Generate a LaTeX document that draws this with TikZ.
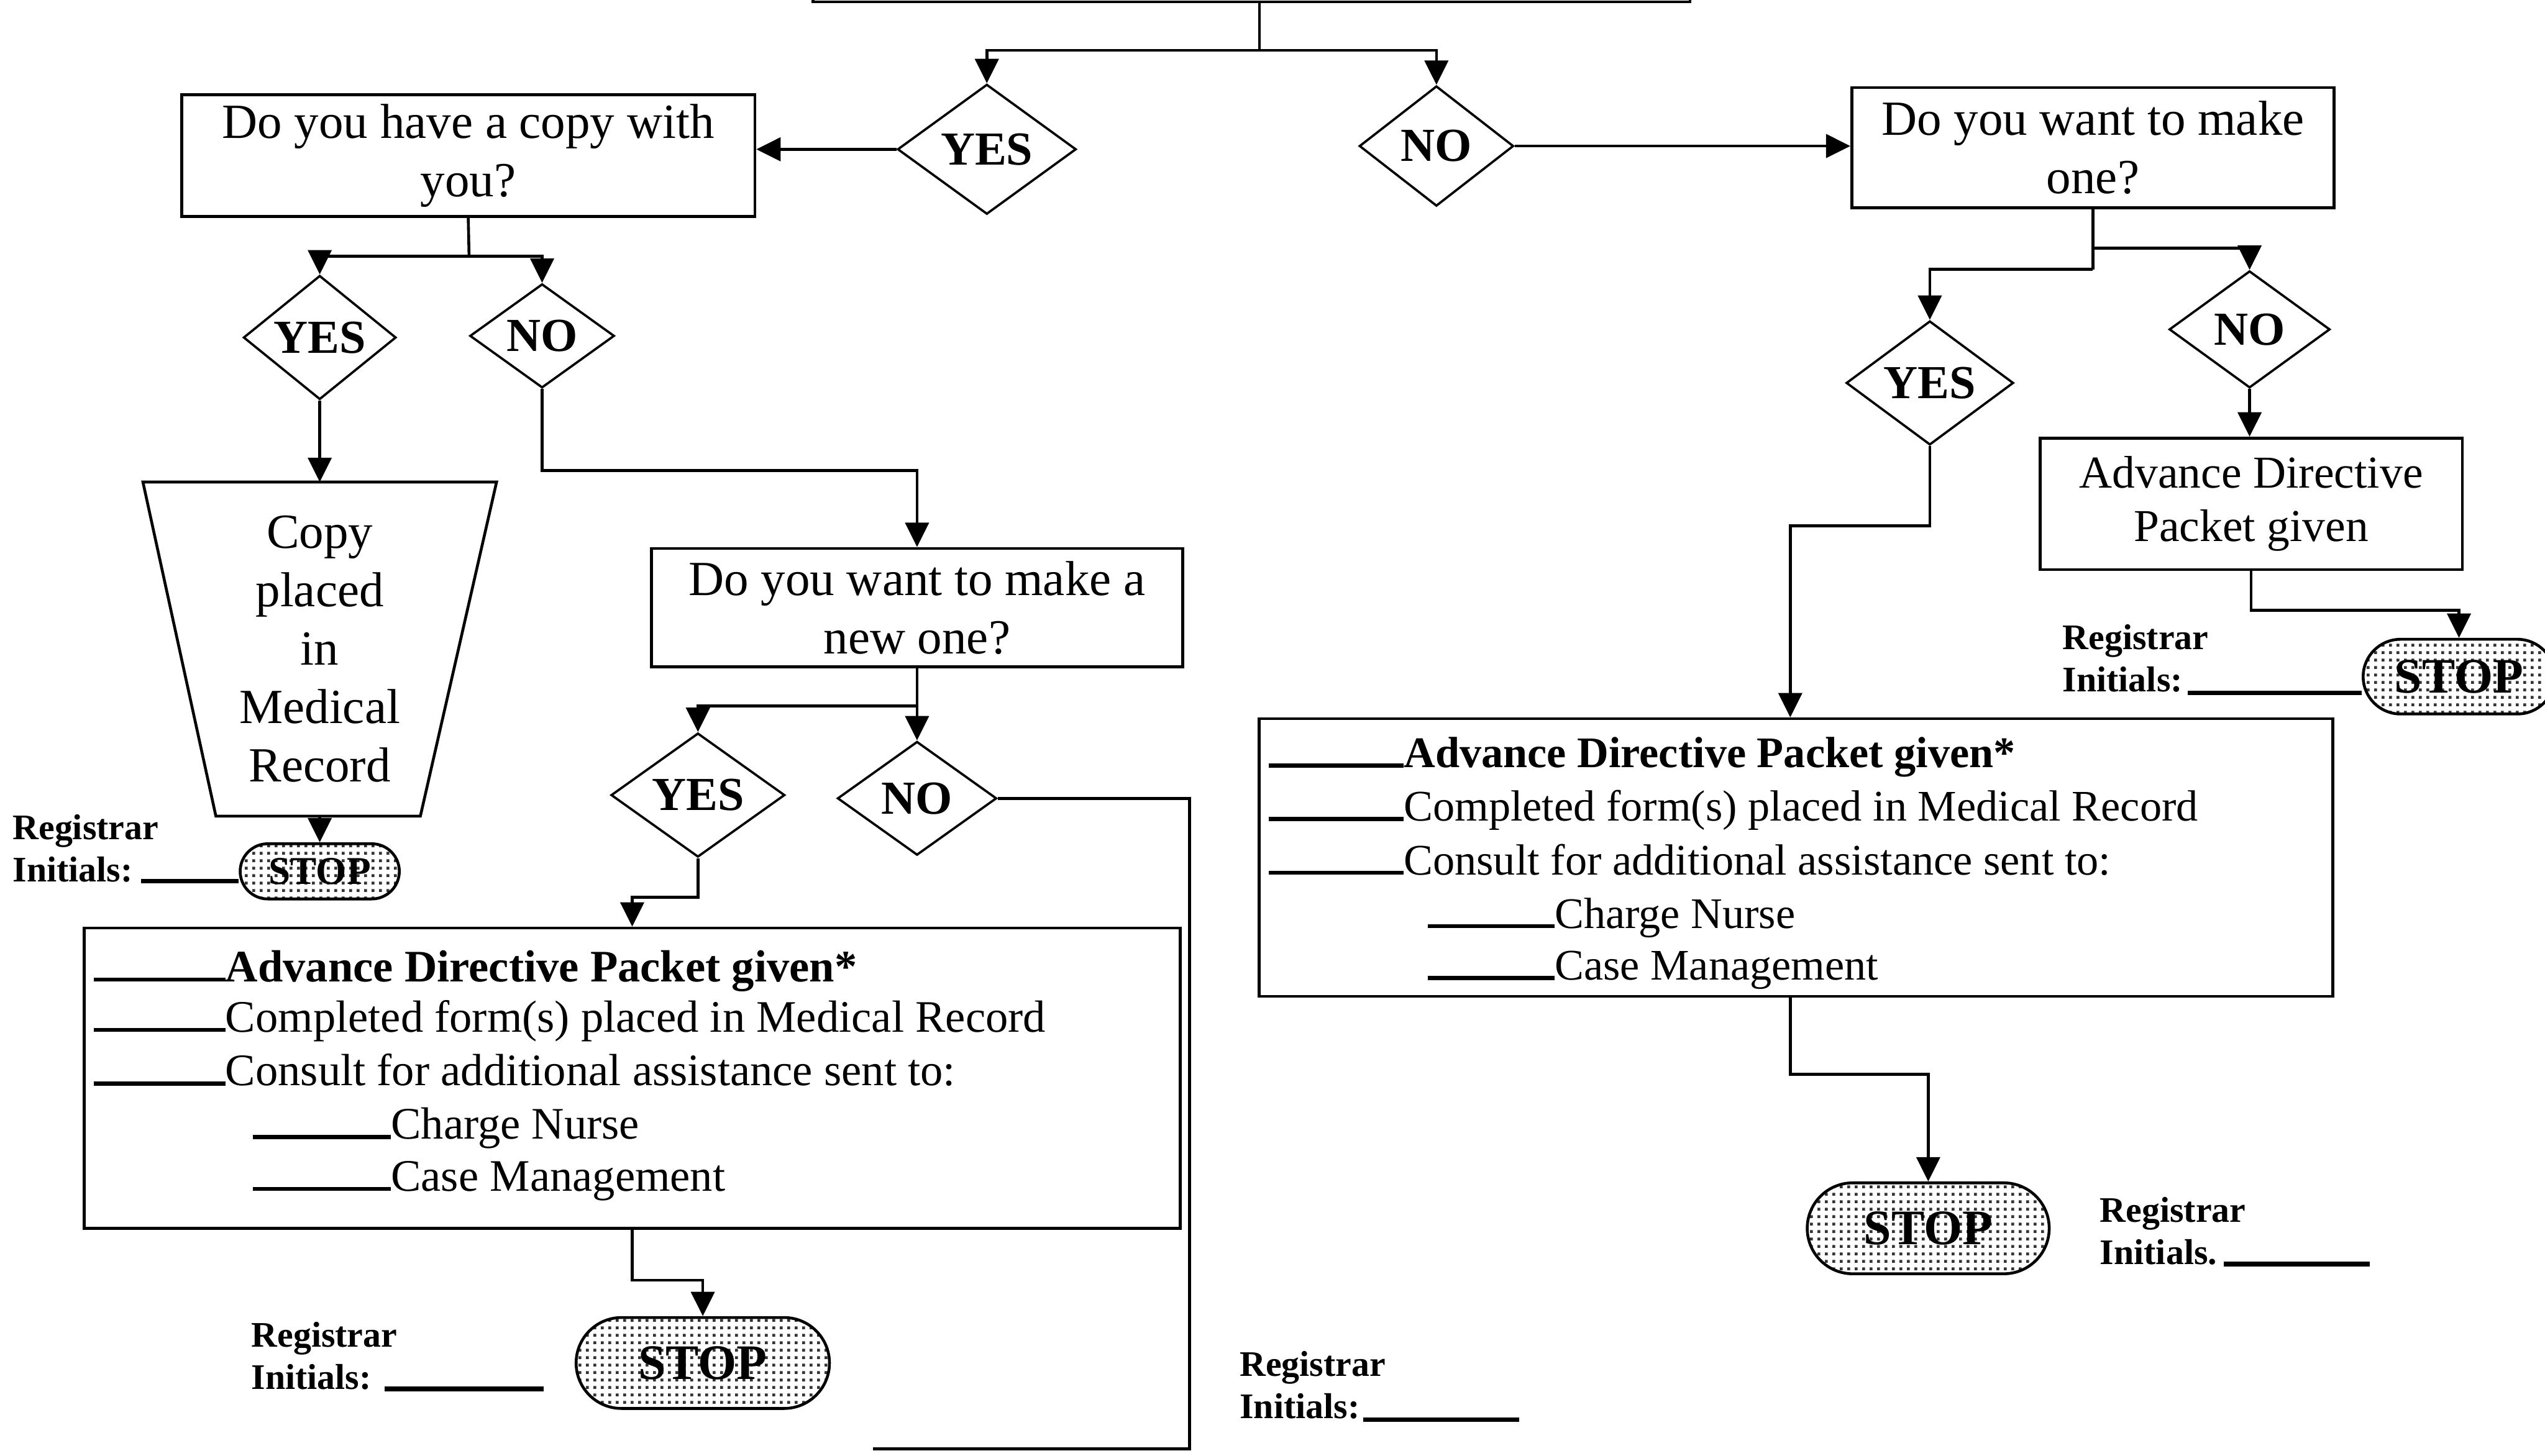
\documentclass[tikz,border=0pt]{standalone}
\usepackage{fontspec}
\setmainfont{Liberation Serif}
\usetikzlibrary{shapes.geometric,shapes.misc,arrows.meta,patterns.meta,calc}
\tikzdeclarepattern{
  name=stipple,
  type=uncolored,
  bounding box={(0pt,0pt) and (1.3pt,1.3pt)},
  tile size={(1.3pt,1.3pt)},
  code={\pgfpathrectangle{\pgfpointorigin}{\pgfpoint{0.5pt}{0.5pt}}\pgfusepath{fill}}
}
\newcommand\blank[1]{\rule{#1}{0.7pt}}
\begin{document}
\begin{tikzpicture}[x=0.01cm,y=-0.01cm,line width=0.5pt,
  arr/.style={-{Triangle[length=1.5mm,width=1.45mm]}},
  qbox/.style={draw,rectangle,inner sep=0pt,align=center,font=\fontsize{8.6}{10.24}\selectfont},
  dia/.style={draw,diamond,inner sep=0pt,line width=0.4pt,font=\fontsize{8.3}{10}\selectfont\bfseries},
  stopn/.style={draw,rounded rectangle,inner sep=0pt,preaction={fill=white},pattern=stipple,pattern color=black!80,font=\fontsize{8.7}{10}\selectfont\bfseries},
  reg/.style={anchor=north west,inner sep=0pt,align=left,font=\fontsize{6.3}{7.4}\selectfont\bfseries},
  ltl/.style={anchor=base west,inner sep=0pt,font=\fontsize{7.9}{9}\selectfont},
  ltr/.style={anchor=base west,inner sep=0pt,font=\fontsize{7.65}{9}\selectfont},
  initl/.style={line width=0.8pt}
]
\useasboundingbox (0,0) rectangle (1568,897);
\clip (0,0) rectangle (1568,897);

% top (cut-off) box
\node[draw,minimum width=5.4cm,minimum height=1cm,anchor=south west,inner sep=0pt] (top) at (500,2) {};

% first level
\node[dia,minimum width=1.1cm,minimum height=0.8cm] (yes1) at (608,92) {YES};
\node[dia,minimum width=0.95cm,minimum height=0.74cm] (no1) at (885,90) {NO};
\node[qbox,minimum width=3.53cm,minimum height=0.75cm] (q1) at (288.5,96) {Do you have a copy with\\you?};
\node[qbox,minimum width=2.97cm,minimum height=0.74cm] (q2) at (1289.5,91) {Do you want to make\\one?};

% left branch
\node[dia,minimum width=0.94cm,minimum height=0.63cm] (yes2) at (197,208) {YES};
\node[dia,minimum width=0.89cm,minimum height=0.64cm] (no2) at (334,207) {NO};
\node[inner sep=0pt,align=center,minimum width=2.16cm,minimum height=2.04cm,font=\fontsize{8.6}{10.24}\selectfont] (trap) at (197,400) {Copy\\placed\\in\\Medical\\Record};
\draw (trap.north west) -- (trap.north east) -- ($(trap.south)+(62,0)$) -- ($(trap.south)+(-64,0)$) -- cycle;
\node[stopn,minimum width=0.98cm,minimum height=0.34cm,font=\fontsize{6.9}{8}\selectfont\bfseries] (stop1) at (197,537) {STOP};
\node[reg] (r1) at (7,501) {Registrar\\Initials:};
\coordinate (i1) at (87,543);
\draw[initl] (i1) -- (i1 -| stop1.west);

\node[qbox,minimum width=3.27cm,minimum height=0.73cm] (q3) at (565,374.5) {Do you want to make a\\new one?};
\node[dia,minimum width=1.07cm,minimum height=0.76cm] (yes3) at (430,490) {YES};
\node[dia,minimum width=0.98cm,minimum height=0.70cm] (no3) at (565,492) {NO};

\node[draw,minimum width=6.75cm,minimum height=1.85cm,inner sep=0pt] (box1) at (389.5,664.5) {};
\node[ltl] (l1a) at (57,605) {\blank{0.81cm}\textbf{Advance Directive Packet given*}};
\node[ltl] (l1b) at (57,636) {\blank{0.81cm}Completed form(s) placed in Medical Record};
\node[ltl] (l1c) at (57,669) {\blank{0.81cm}Consult for additional assistance sent to:};
\node[ltl] (l1d) at (155,702) {\blank{0.85cm}Charge Nurse};
\node[ltl] (l1e) at (155,734) {\blank{0.85cm}Case Management};

\node[stopn,minimum width=1.56cm,minimum height=0.56cm] (stop2) at (433,840) {STOP};
\node[reg] (r2) at (154,814) {Registrar\\Initials:};
\coordinate (i2a) at (237,856); \coordinate (i2b) at (335,856);
\draw[initl] (i2a) -- (i2b);
\node[reg] (r3) at (763,832) {Registrar\\Initials:};
\coordinate (i3a) at (840,875); \coordinate (i3b) at (936,875);
\draw[initl] (i3a) -- (i3b);

% right branch
\node[dia,minimum width=1.03cm,minimum height=0.76cm] (yes4) at (1189,236) {YES};
\node[dia,minimum width=0.99cm,minimum height=0.72cm] (no4) at (1386,203) {NO};
\node[draw,inner sep=0pt,align=center,minimum width=2.6cm,minimum height=0.81cm,font=\fontsize{8}{9.4}\selectfont] (adp) at (1387,310.5) {Advance Directive\\Packet given};
\node[stopn,minimum width=1.18cm,minimum height=0.46cm] (stop3) at (1515,417) {STOP};
\node[reg] (r4) at (1270,384) {Registrar\\Initials:};
\coordinate (i4) at (1348,427);
\draw[initl] (i4) -- (i4 -| stop3.west);

\node[draw,minimum width=6.61cm,minimum height=1.71cm,inner sep=0pt] (box2) at (1106.5,528.5) {};
\node[ltr] (l2a) at (781,473) {\blank{0.83cm}\textbf{Advance Directive Packet given*}};
\node[ltr] (l2b) at (781,506) {\blank{0.83cm}Completed form(s) placed in Medical Record};
\node[ltr] (l2c) at (781,539) {\blank{0.83cm}Consult for additional assistance sent to:};
\node[ltr] (l2d) at (879,572) {\blank{0.78cm}Charge Nurse};
\node[ltr] (l2e) at (879,604) {\blank{0.78cm}Case Management};

\node[stopn,minimum width=1.49cm,minimum height=0.56cm] (stop4) at (1188,757) {STOP};
\node[reg] (r5) at (1293,737) {Registrar\\Initials.};
\coordinate (i5a) at (1370,779); \coordinate (i5b) at (1460,779);
\draw[initl] (i5a) -- (i5b);

% connectors
\coordinate (t1) at (776,31);
\draw (top.south -| t1) -- (t1);
\draw[arr] (t1) -| (yes1.north);
\draw[arr] (t1) -| (no1.north);
\draw[arr] (yes1.west) -- (yes1.west -| q1.east);
\draw[arr] (no1.east) -- (no1.east -| q2.west);

\coordinate (b1) at (289,158);
\draw (q1.south) -- (b1);
\draw[arr] (b1) -| (yes2.north);
\draw[arr] (b1) -| (no2.north);
\draw[arr] (yes2.south) -- (trap.north);
\draw[arr] (trap.south) -- (stop1.north);
\coordinate (b2) at (334,290);
\draw[arr] (no2.south) -- (b2) -| (q3.north);
\coordinate (b3) at (565,435);
\draw[arr] (q3.south) -- (no3.north);
\draw[arr] (b3) -| (yes3.north);
\coordinate (b4) at (430,553);
\draw[arr] (yes3.south) -- (b4) -| (box1.north);
\coordinate (n3a) at (733,893); \coordinate (n3b) at (538,893);
\draw (no3.east) -| (n3a) -- (n3b);
\coordinate (b5) at (389.5,789);
\draw[arr] (box1.south) -- (b5) -| (stop2.north);

\coordinate (a1) at (1289.5,153); \coordinate (a2) at (1289.5,166);
\draw (q2.south) -- (a2);
\draw[arr] (a1) -| (no4.north);
\draw[arr] (a2) -| (yes4.north);
\draw[arr] (no4.south) -- (no4.south |- adp.north);
\coordinate (a3) at (1387,376);
\draw[arr] (adp.south) -- (a3) -| (stop3.north);
\coordinate (a4) at (1103,324);
\draw[arr] (yes4.south) |- (a4) -- (a4 |- box2.north);
\coordinate (a5) at (1103,662);
\draw[arr] (a5 |- box2.south) -- (a5) -| (stop4.north);
\end{tikzpicture}
\end{document}
